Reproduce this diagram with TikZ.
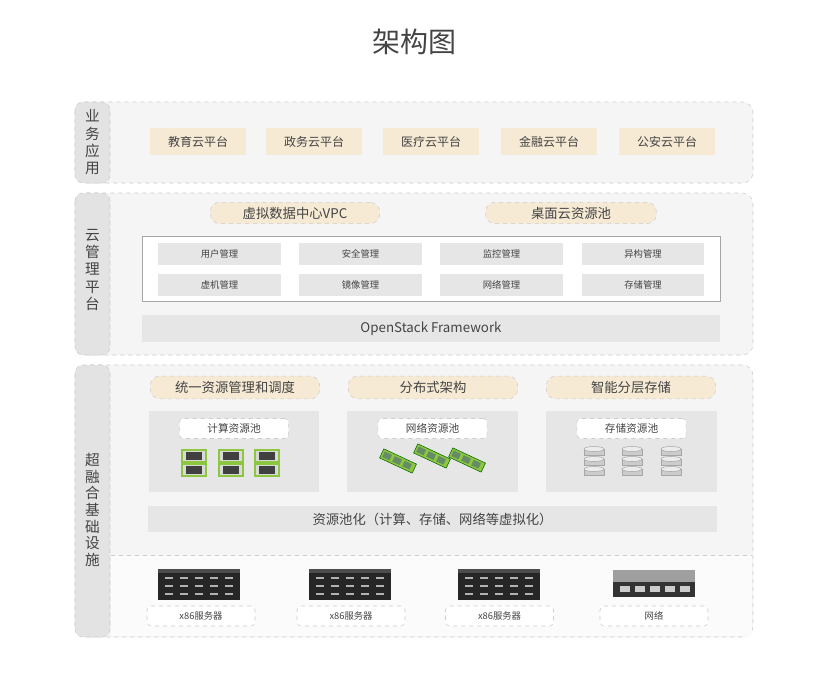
\documentclass[tikz,border=0pt]{standalone}
\usepackage{fontspec}
\setmainfont{Noto Sans CJK SC}
\usetikzlibrary{positioning}
\definecolor{panel}{HTML}{F5F5F5}
\definecolor{side}{HTML}{E3E3E3}
\definecolor{beige}{HTML}{F6EAD5}
\definecolor{gbox}{HTML}{E6E6E6}
\definecolor{txt}{HTML}{444444}
\definecolor{dashc}{HTML}{CCCCCC}
\definecolor{grn}{HTML}{8DC63F}
\tikzset{
 px/.style={x=0.75pt,y=-0.75pt},
 layer/.style={fill=panel,draw=dashc,dashed,rounded corners=8pt},
 sidebar/.style={fill=side,draw=dashc,dashed,rounded corners=6pt},
 beigebox/.style={fill=beige,draw=none,text=txt,font=\fontsize{9}{10}\selectfont},
 pill/.style={fill=beige,draw=dashc,dashed,rounded corners=7pt,text=txt,font=\fontsize{10}{11}\selectfont},
 graybox/.style={fill=gbox,draw=none,text=txt,font=\fontsize{7}{8}\selectfont},
 bar/.style={fill=gbox,draw=none,text=txt,font=\fontsize{10}{11}\selectfont},
 wlabel/.style={fill=white,draw=dashc,dashed,rounded corners=3pt,text=txt,font=\fontsize{8}{9}\selectfont},
 sidetext/.style={text=txt,font=\fontsize{11}{13}\selectfont,align=center,text width=12pt,inner sep=0pt},
}
\begin{document}
\begin{tikzpicture}[px]
\useasboundingbox[fill=white] (0,0) rectangle (828,678);
\node[font=\fontsize{21}{22}\selectfont,text=txt] (title) at (414,42) {架构图};
% layers
\draw[layer] (75,102) rectangle (753,183);
\draw[sidebar] (75,102) rectangle (110,183);
\node[sidetext] (s1) at (92.5,142.5) {业\\务\\应\\用};
\draw[layer] (75,193) rectangle (753,355);
\draw[sidebar] (75,193) rectangle (110,355);
\node[sidetext] (s2) at (92.5,270) {云\\管\\理\\平\\台};
\draw[layer] (75,365) rectangle (753,637);
\fill[white!60!panel] (111,556) rectangle (752,636);
\draw[dashc,dashed] (111,555) -- (752,555);
\draw[sidebar] (75,365) rectangle (110,637);
\node[sidetext,font=\fontsize{11}{12.5}\selectfont] (s3) at (92.5,510) {超\\融\\合\\基\\础\\设\\施};
% layer 1
\foreach \x/\t [count=\i] in {198/教育云平台,314/政务云平台,431/医疗云平台,549/金融云平台,667/公安云平台}
 \node[beigebox,minimum width=72pt,minimum height=20pt] (a\i) at (\x,141.5) {\t};
% layer 2
\node[pill,minimum width=127pt,minimum height=16pt] (vpc) at (295,213) {虚拟数据中心VPC};
\node[pill,minimum width=128pt,minimum height=16pt] (desk) at (571,213) {桌面云资源池};
\draw[gray!70,fill=white] (142,236) rectangle (720,301);
\foreach \x/\t/\u [count=\i] in {219.5/用户管理/虚机管理,360.5/安全管理/镜像管理,501.5/监控管理/网络管理,643/异构管理/存储管理}{
 \node[graybox,minimum width=92pt,minimum height=16pt] (m\i) at (\x,254) {\t};
 \node[graybox,minimum width=92pt,minimum height=16pt] (n\i) at (\x,285) {\u};
}
\node[bar,minimum width=433pt,minimum height=20pt] (os) at (431,328.5) {OpenStack Framework};
% layer 3
\foreach \x/\t [count=\i] in {235/统一资源管理和调度,433/分布式架构,631/智能分层存储}
 \node[pill,minimum width=127pt,minimum height=17pt] (p\i) at (\x,387.5) {\t};
\foreach \x/\t [count=\i] in {234/计算资源池,432.5/网络资源池,631.5/存储资源池}{
 \node[fill=gbox,minimum width=128pt,minimum height=61pt,inner sep=0pt] (g\i) at (\x,451.5) {};
 \node[wlabel,minimum width=82pt,minimum height=15pt,inner sep=0pt] (w\i) at (\x,428.5) {\t};
}
% compute icons
\foreach \x in {194,231,267}{
 \foreach \y in {456,470}{
  \draw[grn,line width=1.2pt,fill=gray!30] (\x-12,\y-6) rectangle (\x+12,\y+6);
  \fill[black!75] (\x-8,\y-4) rectangle (\x+8,\y+4);
 }
}
% ram icons
\foreach \x/\y in {398/461,432/456,467/460}{
 \begin{scope}[shift={(\x,\y)},rotate=-25]
  \draw[green!40!black,fill=grn] (-18,-5) rectangle (18,5);
  \foreach \k in {-12,-1,10} \fill[green!25!black!60] (\k-4,-3) rectangle (\k+4,3);
 \end{scope}
}
% storage icons
\foreach \x in {594,632,671}{
 \foreach \y in {452,462,472}{
  \draw[gray!70,fill=gray!40] (\x-10,\y-3) rectangle (\x+10,\y+3);
  \draw[gray!70,fill=gray!15] (\x,\y-3) ellipse [x radius=10, y radius=2.5];
 }
}
\node[bar,minimum width=427pt,minimum height=19pt] (pool) at (432.5,519) {资源池化（计算、存储、网络等虚拟化）};
% servers
\foreach \x [count=\i] in {199,350,499}{
 \fill[black!70] (\x-41,569) rectangle (\x+41,573);
 \fill[black!85] (\x-41,573) rectangle (\x+41,600);
 \foreach \y in {578,586,594}{
  \foreach \k in {-30,-15,0,15,30} \fill[gray!60] (\x+\k-4,\y-1) rectangle (\x+\k+4,\y+1);
 }
}
\fill[gray!75] (613,570) rectangle (695,582);
\fill[black!80] (613,582) rectangle (695,597);
\foreach \k in {625,640,655,670,685} \fill[gray!40] (\k-5,586) rectangle (\k+5,592);
\foreach \x/\t [count=\i] in {201/x86服务器,351/x86服务器,499.5/x86服务器,654/网络}
 \node[wlabel,minimum width=81pt,minimum height=15pt,inner sep=0pt,font=\fontsize{7}{8}\selectfont] (l\i) at (\x,616) {\t};
\end{tikzpicture}
\end{document}
